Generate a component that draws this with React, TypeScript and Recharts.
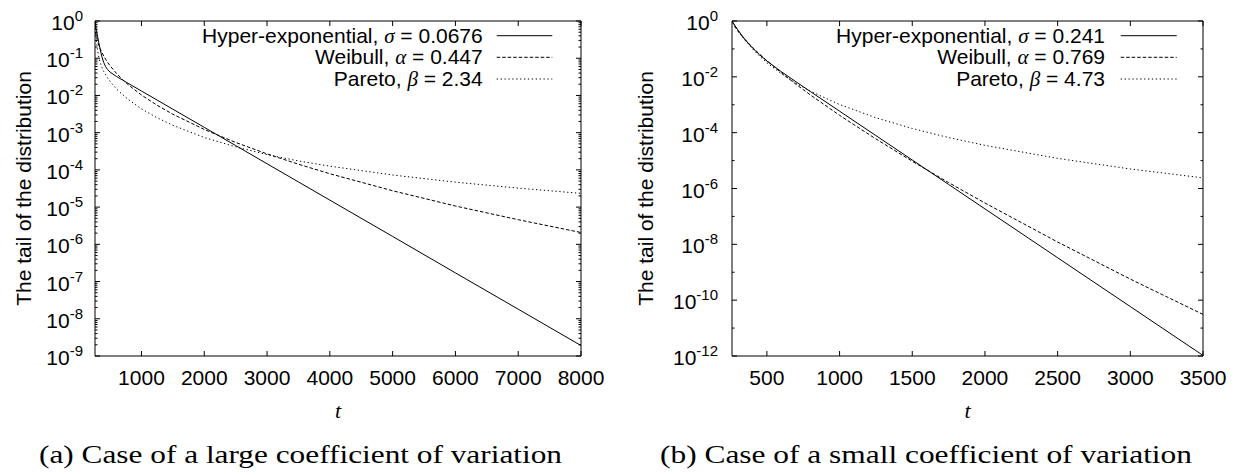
import React from 'react';
import { LineChart, Line, XAxis, YAxis, Legend, Label } from 'recharts';

// ---------- Panel (a) ----------
const tA = [260, 270, 280, 300, 320, 340, 370, 400, 430, 460, 500, 600, 700, 800, 1000, 1250, 1500, 2000, 2500, 3000, 3500, 4000, 5000, 6000, 7000, 8000];
const hyperA = [1, 0.787, 0.622, 0.397, 0.264, 0.181, 0.109, 0.0759, 0.0591, 0.0499, 0.0425, 0.0325, 0.0258, 0.0206, 0.01315, 7.5e-3, 4.27e-3, 1.39e-3, 4.51e-4, 1.46e-4, 4.75e-5, 1.54e-5, 1.63e-6, 1.71e-7, 1.81e-8, 1.91e-9];
const weibullA = [1, 0.512, 0.402, 0.2886, 0.2255, 0.1837, 0.1418, 0.1135, 0.0932, 0.0779, 0.0628, 0.0394, 0.0265, 0.0187, 0.01026, 5.43e-3, 3.13e-3, 1.22e-3, 5.46e-4, 2.69e-4, 1.42e-4, 7.89e-5, 2.75e-5, 1.07e-5, 4.59e-6, 2.08e-6];
const paretoA = [1, 0.5, 0.316, 0.166, 0.107, 0.0794, 0.0562, 0.0437, 0.0355, 0.0295, 0.024, 0.0151, 0.0105, 7.59e-3, 4.37e-3, 2.51e-3, 1.58e-3, 7.41e-4, 4.17e-4, 2.57e-4, 1.74e-4, 1.26e-4, 7.28e-5, 4.68e-5, 3.24e-5, 2.34e-5];
const xTicksA = [1000, 2000, 3000, 4000, 5000, 6000, 7000, 8000];
const yExpA = [0, -1, -2, -3, -4, -5, -6, -7, -8, -9];
const paramsA = ['0.0676', '0.447', '2.34'];
const captionA = '(a) Case of a large coefficient of variation';

// ---------- Panel (b) ----------
const tB = [260, 280, 300, 325, 350, 400, 450, 500, 600, 700, 800, 1000, 1250, 1500, 1750, 2000, 2500, 3000, 3500];
const hyperB = [1, 0.69, 0.483, 0.319, 0.216, 0.109, 0.0611, 0.0369, 0.0152, 6.65e-3, 2.95e-3, 5.89e-4, 7.85e-5, 1.05e-5, 1.4e-6, 1.86e-7, 3.31e-9, 5.89e-11, 1.05e-12];
const weibullB = [1, 0.616, 0.438, 0.302, 0.215, 0.115, 0.0649, 0.038, 0.0139, 5.43e-3, 2.23e-3, 4.18e-4, 5.96e-5, 9.46e-6, 1.63e-6, 3.02e-7, 1.21e-8, 5.68e-10, 3.09e-11];
const paretoB = [1, 0.668, 0.461, 0.3006, 0.203, 0.101, 0.0551, 0.0321, 0.0128, 5.92e-3, 3.05e-3, 1.02e-3, 3.42e-4, 1.41e-4, 6.68e-5, 3.51e-5, 1.2e-5, 5.01e-6, 2.4e-6];
const xTicksB = [500, 1000, 1500, 2000, 2500, 3000, 3500];
const yExpB = [0, -2, -4, -6, -8, -10, -12];
const yMinorExpB = [-1, -3, -5, -7, -9, -11];
const paramsB = ['0.241', '0.769', '4.73'];
const captionB = '(b) Case of a small coefficient of variation';

// ---------- shared ----------
const seriesNames = ['Hyper-exponential', 'Weibull', 'Pareto'];
const paramSymbols = ['\u03c3', '\u03b1', '\u03b2'];
const dashes = ['', '3.5 2', '1.3 2.6'];
const yLabel = 'The tail of the distribution';
const xLabel = 't';

const SANS = "'Liberation Sans', Arial, Helvetica, sans-serif";
const SERIF = "'Liberation Serif', 'Times New Roman', serif";
const FS = 21;
const MAJOR = 5;
const MINOR = 2.5;

const buildTable = (t: number[], h: number[], w: number[], p: number[]) =>
  t.map((v, i) => ({ t: v, hyper: h[i], weibull: w[i], pareto: p[i] }));

const dataA = buildTable(tA, hyperA, weibullA, paretoA);
const dataB = buildTable(tB, hyperB, weibullB, paretoB);

const majorsA = yExpA.map((e) => Math.pow(10, e));
const minorsA: number[] = [];
yExpA.slice(1).forEach((e) => {
  for (let m = 2; m <= 9; m++) minorsA.push(m * Math.pow(10, e));
});
const majorsB = yExpB.map((e) => Math.pow(10, e));
const minorsB = yMinorExpB.map((e) => Math.pow(10, e));

const makeYTick = (side: 'left' | 'right', majors: number[], margin: number, showLabel: boolean) => (props: any) => {
  const { x, y, payload } = props;
  const v = payload.value;
  const isMajor = majors.includes(v);
  const len = isMajor ? MAJOR : MINOR;
  const ax = side === 'left' ? x + margin : x - margin;
  const dir = side === 'left' ? 1 : -1;
  const e = Math.round(Math.log10(v));
  return (
    <g>
      <line x1={ax} y1={y} x2={ax + dir * len} y2={y} stroke="#000" strokeWidth={1} />
      {showLabel && isMajor && (
        <text x={x} y={y + 9} textAnchor="end" fontFamily={SANS} fontSize={FS} fill="#000">
          10
          <tspan dy={-9} fontSize={15}>{String(e)}</tspan>
        </text>
      )}
    </g>
  );
};

const makeXTick = (side: 'bottom' | 'top', margin: number, showLabel: boolean) => (props: any) => {
  const { x, y, payload } = props;
  const ay = side === 'bottom' ? y - margin : y + margin;
  const dir = side === 'bottom' ? -1 : 1;
  return (
    <g>
      <line x1={x} y1={ay} x2={x} y2={ay + dir * MAJOR} stroke="#000" strokeWidth={1} />
      {showLabel && (
        <text x={x} y={ay + 29} textAnchor="middle" fontFamily={SANS} fontSize={FS} fill="#000">
          {payload.value}
        </text>
      )}
    </g>
  );
};

type PanelProps = {
  data: any[];
  left: number;
  width: number;
  yAxisWidth: number;
  xDomain: [number, number];
  yDomain: [number, number];
  xTicks: number[];
  majors: number[];
  minors: number[];
  yTickMargin: number;
  yLabelX: number;
  params: string[];
  legendRight: number;
  legendLine: [number, number];
};

const Panel = (p: PanelProps) => {
  const yTicks = [...p.majors, ...p.minors].sort((a, b) => a - b);
  const height = 430;
  const rows = [35.7, 57.3, 79];
  const legendContent = () => (
    <svg width={p.width} height={100} style={{ display: 'block' }}>
      {seriesNames.map((n, i) => (
        <g key={n}>
          <text x={p.legendRight} y={rows[i] + 7} textAnchor="end" fontFamily={SANS} fontSize={FS} fill="#000">
            {n + ', '}
            <tspan fontFamily={SERIF} fontStyle="italic" fontSize={21}>{paramSymbols[i]}</tspan>
            {' = ' + p.params[i]}
          </text>
          <line
            x1={p.legendLine[0]}
            x2={p.legendLine[1]}
            y1={rows[i]}
            y2={rows[i]}
            stroke="#000"
            strokeWidth={1}
            strokeDasharray={dashes[i] || undefined}
          />
        </g>
      ))}
    </svg>
  );
  return (
    <div style={{ position: 'absolute', left: p.left, top: 0 }}>
      <LineChart width={p.width} height={height} data={p.data} margin={{ top: 0, right: 29, bottom: 4, left: 0 }}>
        <XAxis
          xAxisId="b"
          dataKey="t"
          type="number"
          domain={p.xDomain}
          allowDataOverflow
          ticks={p.xTicks}
          interval={0}
          height={70}
          tickSize={0}
          tickMargin={14}
          tickLine={false}
          axisLine={{ stroke: '#000', strokeWidth: 1 }}
          tick={makeXTick('bottom', 14, true)}
        >
          <Label
            content={(lp: any) => {
              const vb = lp.viewBox;
              return (
                <text x={vb.x + vb.width / 2} y={418} textAnchor="middle" fontFamily={SERIF} fontStyle="italic" fontSize={22} fill="#000">
                  {xLabel}
                </text>
              );
            }}
          />
        </XAxis>
        <XAxis
          xAxisId="top"
          orientation="top"
          dataKey="t"
          type="number"
          domain={p.xDomain}
          allowDataOverflow
          ticks={p.xTicks}
          interval={0}
          height={21}
          tickSize={0}
          tickMargin={2}
          tickLine={false}
          axisLine={{ stroke: '#000', strokeWidth: 1 }}
          tick={makeXTick('top', 2, false)}
        />
        <YAxis
          yAxisId="l"
          scale="log"
          type="number"
          domain={p.yDomain}
          allowDataOverflow
          ticks={yTicks}
          interval={0}
          width={p.yAxisWidth}
          tickSize={0}
          tickMargin={p.yTickMargin}
          tickLine={false}
          axisLine={{ stroke: '#000', strokeWidth: 1 }}
          tick={makeYTick('left', p.majors, p.yTickMargin, true)}
        >
          <Label
            content={(lp: any) => {
              const vb = lp.viewBox;
              const cy = vb.y + vb.height / 2;
              return (
                <text
                  x={p.yLabelX}
                  y={cy}
                  transform={`rotate(-90, ${p.yLabelX}, ${cy})`}
                  textAnchor="middle"
                  dominantBaseline="central"
                  fontFamily={SANS}
                  fontSize={FS}
                  fill="#000"
                >
                  {yLabel}
                </text>
              );
            }}
          />
        </YAxis>
        <YAxis
          yAxisId="r"
          orientation="right"
          scale="log"
          type="number"
          domain={p.yDomain}
          allowDataOverflow
          ticks={yTicks}
          interval={0}
          width={10}
          tickSize={0}
          tickMargin={2}
          tickLine={false}
          axisLine={{ stroke: '#000', strokeWidth: 1 }}
          tick={makeYTick('right', p.majors, 2, false)}
        />
        <Legend
          layout="vertical"
          align="center"
          verticalAlign="middle"
          wrapperStyle={{ left: 0, top: 0, width: p.width, height: 100 }}
          content={legendContent}
        />
        <Line xAxisId="b" yAxisId="l" type="linear" dataKey="hyper" stroke="#000" strokeWidth={1} dot={false} isAnimationActive={false} />
        <Line xAxisId="b" yAxisId="l" type="linear" dataKey="weibull" stroke="#000" strokeWidth={1} strokeDasharray={dashes[1]} dot={false} isAnimationActive={false} />
        <Line xAxisId="b" yAxisId="l" type="linear" dataKey="pareto" stroke="#000" strokeWidth={1} strokeDasharray={dashes[2]} dot={false} isAnimationActive={false} />
      </LineChart>
    </div>
  );
};

export default function App() {
  return (
    <div style={{ position: 'absolute', left: 0, top: 0, width: 1242, height: 475, overflow: 'hidden', background: '#fff' }}>
      <Panel
        data={dataA}
        left={0}
        width={620}
        yAxisWidth={95}
        xDomain={[260, 8000]}
        yDomain={[1e-9, 1]}
        xTicks={xTicksA}
        majors={majorsA}
        minors={minorsA}
        yTickMargin={12}
        yLabelX={23.3}
        params={paramsA}
        legendRight={482.7}
        legendLine={[496.7, 552.3]}
      />
      <Panel
        data={dataB}
        left={620}
        width={622}
        yAxisWidth={112}
        xDomain={[260, 3500]}
        yDomain={[1e-12, 1]}
        xTicks={xTicksB}
        majors={majorsB}
        minors={minorsB}
        yTickMargin={14}
        yLabelX={25}
        params={paramsB}
        legendRight={485}
        legendLine={[500.7, 556.7]}
      />
      <svg width={1242} height={475} style={{ position: 'absolute', left: 0, top: 0, pointerEvents: 'none' }}>
        <text x={39} y={463} fontFamily={SERIF} fontSize={26} fill="#000" textLength={523} lengthAdjust="spacingAndGlyphs">
          {captionA}
        </text>
        <text x={660} y={463} fontFamily={SERIF} fontSize={26} fill="#000" textLength={532} lengthAdjust="spacingAndGlyphs">
          {captionB}
        </text>
      </svg>
    </div>
  );
}
